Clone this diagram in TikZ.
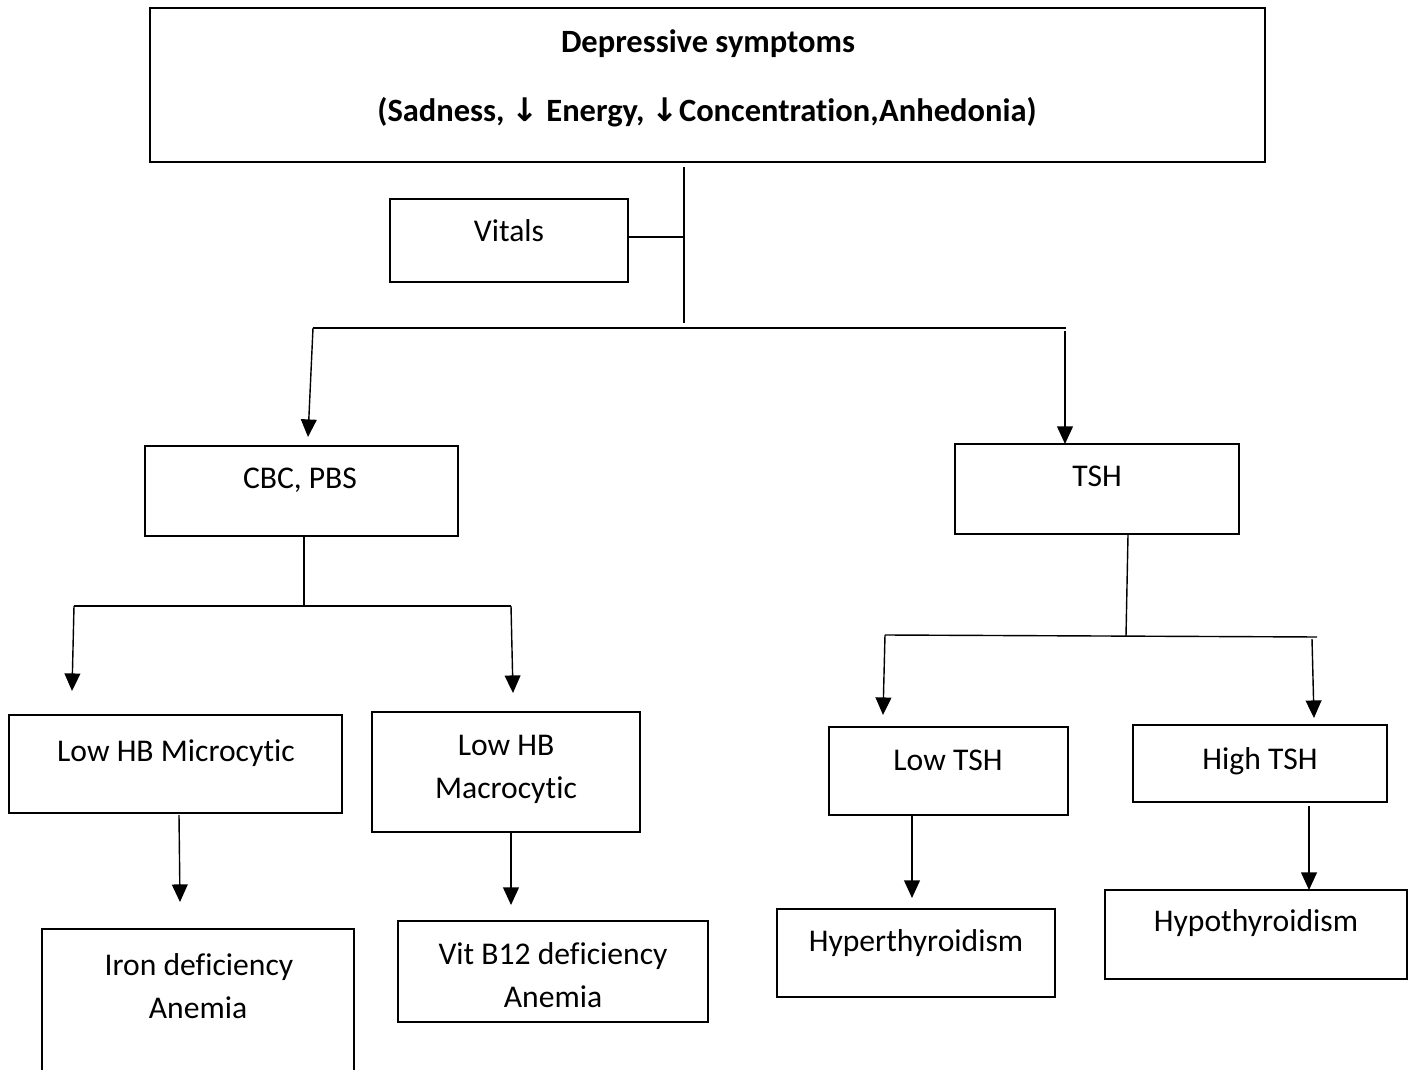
\documentclass[tikz,border=0pt]{standalone}
\usepackage{fontspec}
\setmainfont{Carlito}[Ligatures=NoCommon]
\newfontfamily\symfont{DejaVu Sans}
\usetikzlibrary{fit,arrows.meta}
\begin{document}
\begin{tikzpicture}[x=0.02cm,y=-0.02cm,
  box/.style={draw, line width=1.6pt, inner sep=0pt},
  lbl/.style={anchor=base, inner sep=0pt, font=\fontsize{18}{22}\selectfont},
  ttl/.style={anchor=base, inner sep=0pt, font=\fontsize{18.5}{22}\selectfont\bfseries},
  conn/.style={line width=0.8pt},
  arr/.style={conn, -{Triangle[width=9pt,length=10pt]}}]
\useasboundingbox (0,0) rectangle (1416,1070);

% boxes
\node[box, fit={(150,8) (1265,162)}] (top) {};
\node[box, fit={(390,199) (628,282)}] (vitals) {};
\node[box, fit={(145,446) (458,536)}] (cbc) {};
\node[box, fit={(955,444) (1239,534)}] (tsh) {};
\node[box, fit={(9,715) (342,813)}] (micro) {};
\node[box, fit={(372,712) (640,832)}] (macro) {};
\node[box, fit={(829,727) (1068,815)}] (lowtsh) {};
\node[box, fit={(1133,725) (1387,802)}] (hightsh) {};
\node[box, fit={(42,929) (354,1090)}] (iron) {};
\node[box, fit={(398,921) (708,1022)}] (b12) {};
\node[box, fit={(777,909) (1055,997)}] (hyper) {};
\node[box, fit={(1105,890) (1407,979)}] (hypo) {};

% texts
\node[ttl] (t1) at (708,53) {Depressive symptoms};
\node[ttl] (t2) at (707,122) {(Sadness, {\symfont ↓} Energy, {\symfont ↓}Concentration,Anhedonia)};
\node[lbl] (tv) at (509,242) {Vitals};
\node[lbl] (tc) at (300,489) {CBC, PBS};
\node[lbl] (tt) at (1097,487) {TSH};
\node[lbl] (tm) at (176,761) {Low HB Microcytic};
\node[lbl] (tma1) at (506,755) {Low HB};
\node[lbl] (tma2) at (506,798) {Macrocytic};
\node[lbl] (tl) at (948,770) {Low TSH};
\node[lbl] (th) at (1260,769) {High TSH};
\node[lbl] (ti1) at (199,975) {Iron deficiency};
\node[lbl] (ti2) at (198,1018) {Anemia};
\node[lbl] (tb1) at (553,964) {Vit B12 deficiency};
\node[lbl] (tb2) at (553,1007) {Anemia};
\node[lbl] (thy) at (916,951) {Hyperthyroidism};
\node[lbl] (tho) at (1256,931) {Hypothyroidism};

% junction coordinates
\coordinate (a1) at (684,167);
\coordinate (a2) at (684,323);
\coordinate (av) at (684,237);
\coordinate (h1) at (313,328);
\coordinate (h2) at (1066,328);
\coordinate (h3) at (1065,331);
\coordinate (e1) at (308,437);
\coordinate (e2) at (1065,444);

\coordinate (c1) at (304,537);
\coordinate (c2) at (304,606);
\coordinate (c3) at (74,606);
\coordinate (c4) at (511,606);
\coordinate (c5) at (72,691);
\coordinate (c6) at (513,693);

\coordinate (s1) at (1128,535);
\coordinate (s2) at (1126,636);
\coordinate (s3) at (885,635);
\coordinate (s4) at (1317,637);
\coordinate (s4b) at (1312,639);
\coordinate (s5) at (883,715);
\coordinate (s6) at (1314,718);

\coordinate (m1) at (179,815);
\coordinate (m2) at (180,902);
\coordinate (n1) at (511,831);
\coordinate (n2) at (511,905);
\coordinate (l1) at (912,816);
\coordinate (l2) at (912,898);
\coordinate (k1) at (1309,806);
\coordinate (k2) at (1309,890);

% connectors
\draw[conn] (a1) -- (a2);
\draw[conn] (vitals.east |- av) -- (av);
\draw[conn] (h1) -- (h2);
\draw[arr] (h1) -- (e1);
\draw[arr] (h3) -- (e2);

\draw[conn] (c1) -- (c2);
\draw[conn] (c3) -- (c4);
\draw[arr] (c3) -- (c5);
\draw[arr] (c4) -- (c6);

\draw[conn] (s1) -- (s2);
\draw[conn] (s3) -- (s4);
\draw[arr] (s3) -- (s5);
\draw[arr] (s4b) -- (s6);

\draw[arr] (m1) -- (m2);
\draw[arr] (n1) -- (n2);
\draw[arr] (l1) -- (l2);
\draw[arr] (k1) -- (k2);
\end{tikzpicture}
\end{document}
